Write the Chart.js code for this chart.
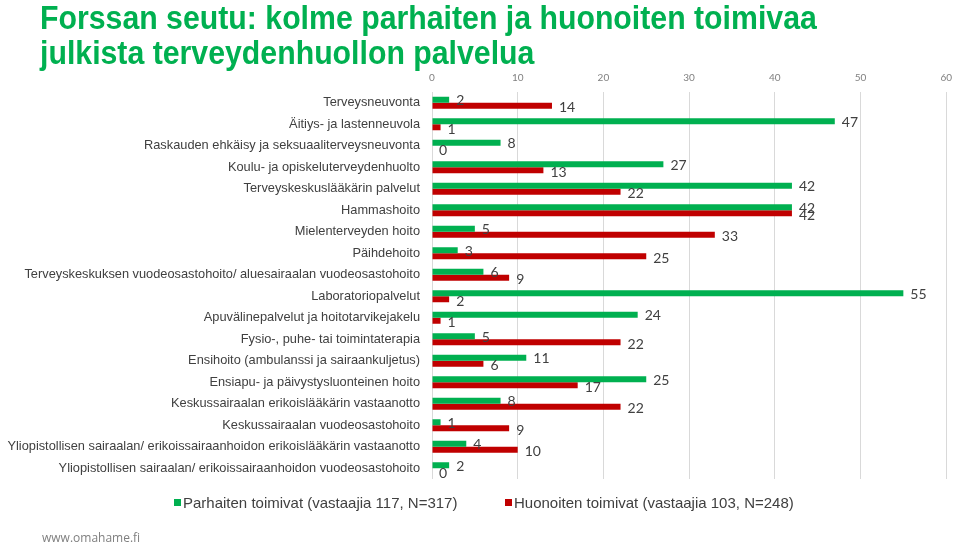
<!DOCTYPE html>
<html>
<head>
<meta charset="utf-8">
<script src="https://cdn.jsdelivr.net/npm/chart.js@4"></script>
<style>
    html, body { margin: 0; padding: 0; background: #fff; }
    #wrap { position: relative; width: 960px; height: 544px; }
    #title {
        position: absolute; left: 40px; top: 0px;
        font-family: "Liberation Sans", sans-serif;
        font-weight: bold; font-size: 34px; line-height: 35px;
        color: #00B050; white-space: nowrap;
        transform: scaleX(0.89); transform-origin: left top;
    }
    #legend {
        position: absolute; top: 494px; left: 0; width: 960px;
        font-family: "Liberation Sans", Arial, sans-serif; font-size: 15px; color: #404040;
    }
    #legend span { position: absolute; white-space: nowrap; }
    #legend i { display: inline-block; width: 7px; height: 7px; margin-right: 2px; vertical-align: 2px; }
    #footer {
        position: absolute; left: 42px; top: 529px;
        font-family: "Open Sans", sans-serif; font-size: 12px; color: #7f7f7f;
    }
    canvas { position: absolute; left: 0; top: 0; }
</style>
</head>
<body>
<div id="wrap">
    <canvas id="chart" width="960" height="544"></canvas>
    <div id="title">Forssan seutu: kolme parhaiten ja huonoiten toimivaa<br>julkista terveydenhuollon palvelua</div>
    <div id="legend"></div>
    <div id="footer">www.omahame.fi</div>
</div>
<script>
const categories = [
    "Terveysneuvonta",
    "Äitiys- ja lastenneuvola",
    "Raskauden ehkäisy ja seksuaaliterveysneuvonta",
    "Koulu- ja opiskeluterveydenhuolto",
    "Terveyskeskuslääkärin palvelut",
    "Hammashoito",
    "Mielenterveyden hoito",
    "Päihdehoito",
    "Terveyskeskuksen vuodeosastohoito/ aluesairaalan vuodeosastohoito",
    "Laboratoriopalvelut",
    "Apuvälinepalvelut ja hoitotarvikejakelu",
    "Fysio-, puhe- tai toimintaterapia",
    "Ensihoito (ambulanssi ja sairaankuljetus)",
    "Ensiapu- ja päivystysluonteinen hoito",
    "Keskussairaalan erikoislääkärin vastaanotto",
    "Keskussairaalan vuodeosastohoito",
    "Yliopistollisen sairaalan/ erikoissairaanhoidon erikoislääkärin vastaanotto",
    "Yliopistollisen sairaalan/ erikoissairaanhoidon vuodeosastohoito"
];
const seriesNames = ["Parhaiten toimivat (vastaajia 117, N=317)", "Huonoiten toimivat (vastaajia 103, N=248)"];
const bestValues  = [2, 47, 8, 27, 42, 42, 5, 3, 6, 55, 24, 5, 11, 25, 8, 1, 4, 2];
const worstValues = [14, 1, 0, 13, 22, 42, 33, 25, 9, 2, 1, 22, 6, 17, 22, 9, 10, 0];
const xTicks = [0, 10, 20, 30, 40, 50, 60];
const colors = ["#00B050", "#C00000"];

// value labels at the end of each bar
const valueLabels = {
    id: "valueLabels",
    afterDatasetsDraw(chart) {
        const ctx = chart.ctx;
        ctx.save();
        ctx.font = "14px Lato, sans-serif";
        ctx.fillStyle = "#404040";
        ctx.textBaseline = "middle";
        chart.data.datasets.forEach((ds, di) => {
            chart.getDatasetMeta(di).data.forEach((bar, i) => {
                ctx.fillText(ds.data[i], bar.x + 7, bar.y + (di == 0 ? 1 : 2));
            });
        });
        ctx.restore();
    }
};

new Chart(document.getElementById("chart").getContext("2d"), {
    type: "bar",
    data: {
        labels: categories,
        datasets: [{
            label: seriesNames[0],
            data: bestValues,
            backgroundColor: colors[0]
        }, {
            label: seriesNames[1],
            data: worstValues,
            backgroundColor: colors[1]
        }]
    },
    options: {
        indexAxis: "y",
        responsive: false,
        animation: false,
        layout: { padding: { top: 68, right: 7, bottom: 65, left: 0 } },
        datasets: { bar: { categoryPercentage: 0.56, barPercentage: 1.0 } },
        scales: {
            x: {
                position: "top",
                min: 0, max: 60,
                afterBuildTicks: scale => { scale.ticks = xTicks.map(v => ({ value: v })); },
                afterFit: scale => { scale.height = 24; },
                grid: { color: "#d9d9d9", drawTicks: false },
                border: { display: false },
                ticks: { color: "#808080", font: { family: "Lato, sans-serif", size: 10 }, padding: 8 }
            },
            y: {
                grid: { display: false, drawTicks: false },
                border: { display: false },
                afterFit: scale => { scale.width = 432; },
                ticks: { color: "#404040", font: { family: "Liberation Sans, Arial, sans-serif", size: 12.8 }, padding: 12, autoSkip: false }
            }
        },
        plugins: {
            legend: { display: false },
            tooltip: { enabled: false }
        }
    },
    plugins: [valueLabels]
});

// legend below the chart
const legendX = [174, 505];
document.getElementById("legend").innerHTML = seriesNames.map((name, i) =>
    `<span style="left:${legendX[i]}px"><i style="background:${colors[i]}"></i>${name}</span>`
).join("");
</script>
</body>
</html>
